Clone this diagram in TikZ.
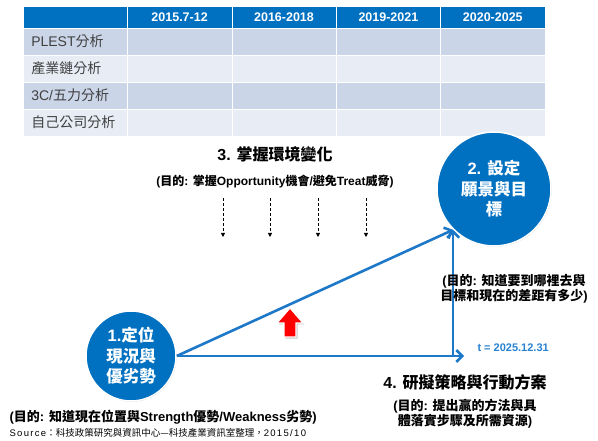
\documentclass[tikz,border=0pt]{standalone}
\usepackage{fontspec}
\setmainfont{Liberation Sans}
\newfontfamily\cjk{Noto Sans CJK TC}
\newcommand{\zh}[1]{{\cjk #1}}
\usetikzlibrary{positioning,arrows.meta,shadows}

\definecolor{hdrblue}{RGB}{0,112,192}
\definecolor{ballblue}{RGB}{0,112,192}
\definecolor{lineblue}{RGB}{30,120,200}
\definecolor{rowdark}{RGB}{203,213,232}
\definecolor{rowlight}{RGB}{231,236,245}
\definecolor{labgray}{RGB}{64,64,64}
\definecolor{tblue}{RGB}{40,130,210}

\begin{document}
\begin{tikzpicture}[x=1pt,y=-1pt,
  cell/.style={rectangle,draw=white,line width=0.5pt,minimum width=104.4pt,minimum height=27pt,inner sep=0pt},
  hdr/.style={cell,fill=hdrblue,minimum height=22pt,text=white,font=\fontsize{12.5}{14}\selectfont\bfseries},
  ball/.style={circle,fill=ballblue,draw=white,line width=1.5pt,text=white,align=center,inner sep=0pt,
    font=\fontsize{16.5}{20.5}\selectfont\bfseries,drop shadow={shadow xshift=0.6pt,shadow yshift=-0.8pt,opacity=0.35}},
  flow/.style={draw=lineblue,line width=2.6pt,-{Straight Barb[length=6pt,width=12pt]}},
  envarrow/.style={densely dashed,line width=0.7pt,-{Triangle[length=4pt,width=4pt]}},
  note/.style={align=center,font=\fontsize{13}{15}\selectfont\bfseries},
  title/.style={font=\fontsize{16}{18}\selectfont\bfseries}]
\useasboundingbox (0,0) rectangle (598,441);

% table header
\foreach \lab [count=\c] in {,2015.7-12,2016-2018,2019-2021,2020-2025} {
    \node[hdr] (h\c) at ({75.2+104.4*(\c-1)},17) {\lab};
}

% table body, rows alternate dark / light
\foreach \r in {1,...,4} {
    \foreach \c in {1,...,5} {
        \ifodd\r
            \node[cell,fill=rowdark] (c\r\c) at ({75.2+104.4*(\c-1)},{41.5+27*(\r-1)}) {};
        \else
            \node[cell,fill=rowlight] (c\r\c) at ({75.2+104.4*(\c-1)},{41.5+27*(\r-1)}) {};
        \fi
    }
}
\foreach \r/\lab in {1/{PLEST\zh{分析}},2/{\zh{產業鏈分析}},3/{3C/\zh{五力分析}},4/{\zh{自己公司分析}}} {
    \node[anchor=west,text=labgray,font=\fontsize{14}{16}\selectfont,xshift=5pt] (l\r) at (c\r1.west) {\lab};
}

% environment scan arrows
\foreach \x [count=\k] in {223,270,318,366} {
    \coordinate (d\k a) at (\x,198);
    \coordinate (d\k b) at (\x,237);
    \draw[envarrow] (d\k a) -- (d\k b);
}

% the two circles
\node[ball,minimum size=90pt] (now) at (131,356) {1.\zh{定位}\\\zh{現況與}\\\zh{優劣勢}};
\node[ball,minimum size=114pt] (goal) at (494,189) {2. \zh{設定}\\\zh{願景與目}\\\zh{標}};

% flow lines
\coordinate (corner) at (goal.225 |- now.east);
\draw[flow] (now.east) -- (goal.225);
\draw[flow] (now.east) -- ([xshift=11pt]corner);
\draw[flow] (corner) -- (goal.225);

% red arrow
\fill[gray!45] (285.5,338.5) -- (285.5,324.5) -- (278.5,324.5) -- (291.5,309.5) -- (304.5,324.5) -- (297.5,324.5) -- (297.5,338.5) -- cycle;
\filldraw[fill=red,draw=white,line width=1.2pt] (284,337) -- (284,323) -- (277,323) -- (290,308) -- (303,323) -- (296,323) -- (296,337) -- cycle;

% texts
\node[title] (step3) at (275,154) {3. \zh{掌握環境變化}};
\node[note,font=\fontsize{12}{14}\selectfont\bfseries,below=6pt of step3] (aim3) {(\zh{目的}: \zh{掌握}Opportunity\zh{機會}/\zh{避免}Treat\zh{威脅})};
\node[note] (aim2) at (514,289) {(\zh{目的}: \zh{知道要到哪裡去與}\\\zh{目標和現在的差距有多少})};
\node[anchor=west,text=tblue,font=\fontsize{11}{13}\selectfont\bfseries] (tend) at (474,348) {t = 2025.12.31};
\node[title] (step4) at (465,382) {4. \zh{研擬策略與行動方案}};
\node[note,below=2pt of step4] (aim4) {(\zh{目的}: \zh{提出贏的方法與具}\\\zh{體落實步驟及所需資源})};
\node[note,anchor=west] (aim1) at (6,417) {(\zh{目的}: \zh{知道現在位置與}Strength\zh{優勢}/Weakness\zh{劣勢})};
\node[anchor=west,font=\fontsize{9.5}{11}\selectfont\addfontfeature{LetterSpace=14}] (src) at (6,433) {Source\zh{：科技政策研究與資訊中心—科技產業資訊室整理，}2015/10};

\end{tikzpicture}
\end{document}
